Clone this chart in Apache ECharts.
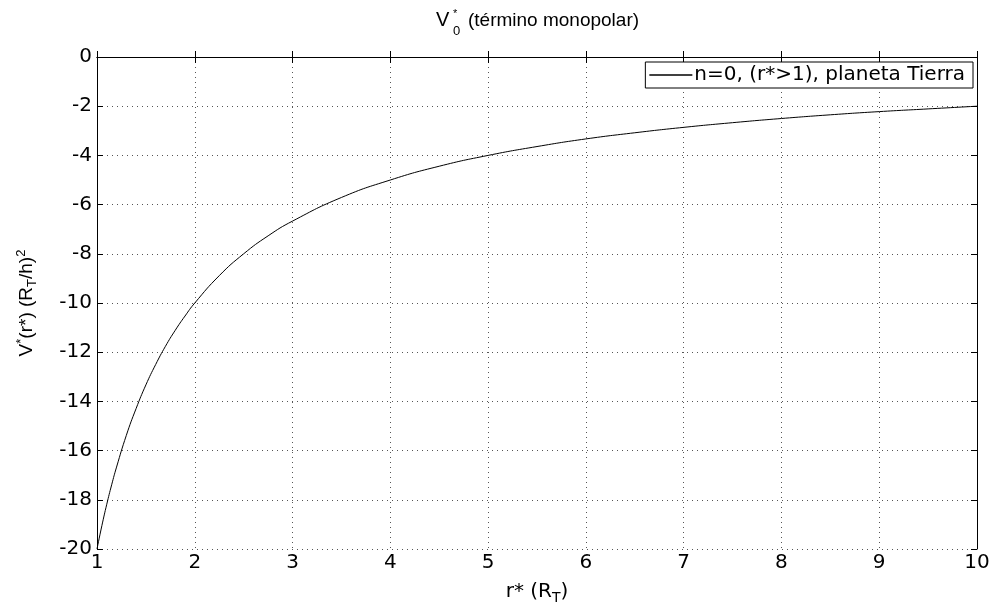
<!DOCTYPE html>
<html><head><meta charset="utf-8">
<script src="https://cdn.jsdelivr.net/npm/echarts@6/dist/echarts.min.js"></script>
<style>html,body{margin:0;padding:0;background:#fff}#c{width:993px;height:603px}</style>
</head><body><div id="c"></div>
<script>
// Data
const rValues = [1, 1.05, 1.1, 1.15, 1.2, 1.3, 1.4, 1.5, 1.6, 1.7, 1.8, 1.9, 2, 2.25, 2.5, 2.75, 3, 3.5, 4, 4.5, 5, 5.5, 6, 6.5, 7, 7.5, 8, 8.5, 9, 9.5, 10];
const vValues = [-20, -19.05, -18.18, -17.39, -16.67, -15.38, -14.29, -13.33, -12.5, -11.76, -11.11, -10.53, -10, -8.89, -8, -7.27, -6.67, -5.71, -5, -4.44, -4, -3.64, -3.33, -3.08, -2.86, -2.67, -2.5, -2.35, -2.22, -2.11, -2];
const seriesName = 'n=0, (r*>1), planeta Tierra';

const FONT = 'Liberation Sans, Arial, sans-serif';
const WIDE = 'DejaVu Sans, sans-serif';
const chart = echarts.init(document.getElementById('c'));
const data = rValues.map((r, i) => [r, vValues[i]]);
const gridLine = {show: true, lineStyle: {color: '#555', type: [1, 4], width: 1}};
const axisLine = {show: true, lineStyle: {color: '#000', width: 1}};
const tick = {show: true, inside: true, length: 6, lineStyle: {color: '#000'}};

chart.setOption({
  animation: false,
  backgroundColor: '#fff',
  textStyle: {fontFamily: FONT},
  grid: {left: 97, right: 16, top: 57, bottom: 54, show: false, containLabel: false, outerBoundsMode: 'none'},
  graphic: [
    {type: 'text', left: 436, top: 10, style: {text: 'V', fontSize: 20, fontFamily: FONT, fill: '#000'}},
    {type: 'text', left: 453, top: 8, style: {text: '*', fontSize: 11, fontFamily: FONT, fill: '#000'}},
    {type: 'text', left: 453, top: 25, style: {text: '0', fontSize: 13, fontFamily: FONT, fill: '#000'}},
    {type: 'text', left: 468, top: 11, style: {text: '(término monopolar)', fontSize: 19, fontFamily: FONT, fill: '#000'}}
  ],
  legend: {
    data: [{name: seriesName, icon: 'path://M0,0 L1,0 L1,0.04 L0,0.04 Z'}],
    right: 20, top: 62,
    itemWidth: 43, itemHeight: 2, itemGap: 0,
    backgroundColor: '#fff', borderColor: '#000', borderWidth: 1, borderRadius: 0,
    padding: [3, 8, 3, 4],
    textStyle: {fontSize: 20, fontFamily: WIDE, color: '#000', padding: [0, 0, 0, -3]}
  },
  xAxis: [{
    type: 'value', min: 1, max: 10, interval: 1,
    name: '{a|r* (R}{s|T}{a|)}', nameLocation: 'middle', nameGap: 30,
    nameTextStyle: {rich: {a: {fontSize: 20, fontFamily: WIDE, color: '#000'}, s: {fontSize: 14, fontFamily: WIDE, color: '#000', padding: [12, 0, 0, 0]}}},
    axisLine: axisLine, axisTick: tick, splitLine: gridLine,
    axisLabel: {fontSize: 20, color: '#000', fontFamily: WIDE, margin: 4}
  }, {
    type: 'value', min: 1, max: 10, interval: 1, position: 'top',
    axisLine: axisLine, axisTick: tick, splitLine: {show: false}, axisLabel: {show: false}
  }],
  yAxis: [{
    type: 'value', min: -20, max: 0, interval: 2,
    name: '{v|V}{p|*}{a|(r*) (R}{s|T}{a|/h)}{p|2}', nameLocation: 'middle', nameGap: 58,
    nameTextStyle: {rich: {
      a: {fontSize: 19, fontFamily: FONT, color: '#000'},
      v: {fontSize: 19, fontFamily: FONT, color: '#000'},
      s: {fontSize: 13, fontFamily: FONT, color: '#000', padding: [12, 0, 0, 0]},
      p: {fontSize: 13, fontFamily: FONT, color: '#000', padding: [0, 0, 10, 0]}
    }},
    axisLine: axisLine, axisTick: tick, splitLine: gridLine,
    axisLabel: {fontSize: 20, color: '#000', fontFamily: WIDE, margin: 5}
  }, {
    type: 'value', min: -20, max: 0, interval: 2, position: 'right',
    axisLine: axisLine, axisTick: tick, splitLine: {show: false}, axisLabel: {show: false}
  }],
  series: [{
    name: seriesName, type: 'line', data: data, smooth: 0.5, showSymbol: false,
    lineStyle: {color: '#000', width: 1}, itemStyle: {color: '#000'}
  }]
});
</script></body></html>
